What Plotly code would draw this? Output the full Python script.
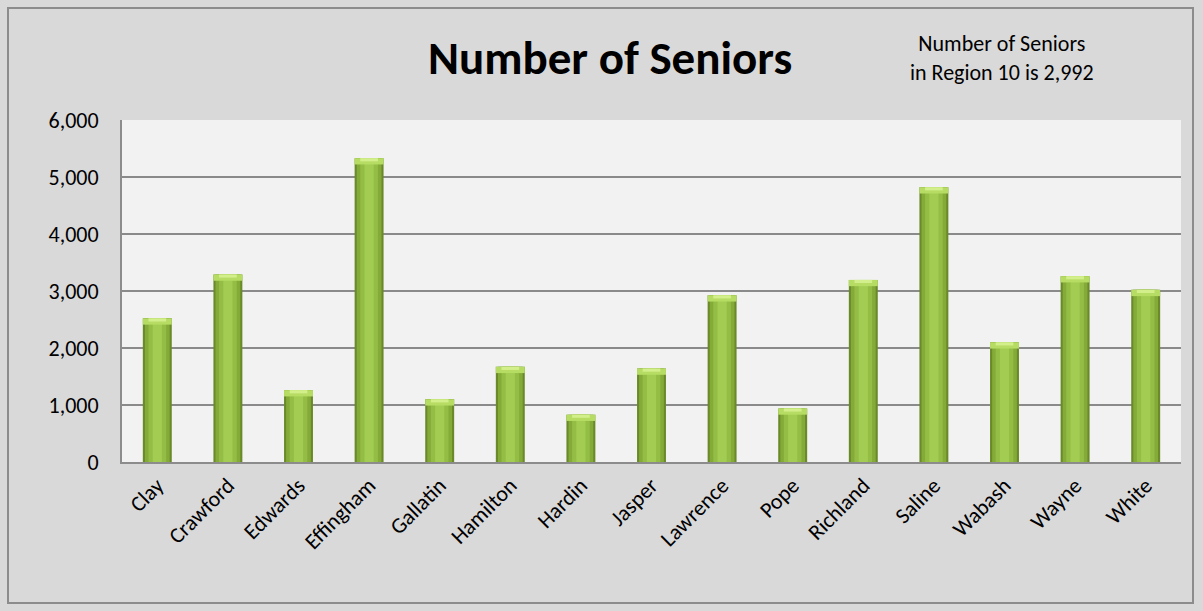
import plotly.graph_objects as go

counties = ["Clay", "Crawford", "Edwards", "Effingham", "Gallatin", "Hamilton", "Hardin",
            "Jasper", "Lawrence", "Pope", "Richland", "Saline", "Wabash", "Wayne", "White"]
seniors = [2520, 3290, 1260, 5330, 1100, 1670, 830, 1640, 2925, 940, 3195, 4820, 2100, 3260, 3020]
y_ticks = [0, 1000, 2000, 3000, 4000, 5000, 6000]
y_tick_labels = ["0", "1,000", "2,000", "3,000", "4,000", "5,000", "6,000"]
title_text = "Number of Seniors"
note_text = "Number of Seniors<br>in Region 10 is 2,992"

FONT = "Calibri, Carlito, 'Noto Sans', sans-serif"

fig = go.Figure()
# layered bars to imitate the gradient fill
layers = [(0.41, "#6a8a2a"), (0.35, "#84ab38"), (0.25, "#93bd44"), (0.13, "#a2cd52")]
for w, c in layers:
    fig.add_trace(go.Bar(x=counties, y=seniors, width=w, marker=dict(color=c, line=dict(width=0)),
                         hoverinfo="skip", showlegend=False))
# light bevel at the top of each bar
band = 110
fig.add_trace(go.Bar(x=counties, y=[band] * len(seniors), base=[v - band for v in seniors],
                     width=0.41, marker=dict(color="#b6dc64", line=dict(width=0)),
                     hoverinfo="skip", showlegend=False))
fig.add_trace(go.Bar(x=counties, y=[band / 2] * len(seniors), base=[v - band / 2 for v in seniors],
                     width=0.25, marker=dict(color="#d3ef8c", line=dict(width=0)),
                     hoverinfo="skip", showlegend=False))

fig.update_layout(
    barmode="overlay",
    width=1203, height=611,
    margin=dict(l=122, r=22, t=120, b=149),
    paper_bgcolor="#d9d9d9",
    plot_bgcolor="#f2f2f2",
    font=dict(family=FONT, size=22, color="#000000"),
    showlegend=False,
    xaxis=dict(tickangle=-45, showline=True, linecolor="#8c8c8c", linewidth=2,
               ticks="", tickfont=dict(size=22), showgrid=False),
    yaxis=dict(range=[0, 6000], tickvals=y_ticks, ticktext=y_tick_labels,
               showgrid=True, gridcolor="#8a8a8a", gridwidth=1.5,
               showline=True, linecolor="#8c8c8c", linewidth=2, ticks="",
               ticklabelstandoff=17, tickfont=dict(size=22), zeroline=False),
    annotations=[
        dict(text="<b>" + title_text + "</b>", xref="paper", yref="paper",
             x=(610 - 122) / 1059, y=(462 - 58) / 342, xanchor="center", yanchor="middle",
             showarrow=False, font=dict(size=47, family=FONT)),
        dict(text=note_text, xref="paper", yref="paper",
             x=(1002 - 122) / 1059, y=(462 - 58) / 342, xanchor="center", yanchor="middle",
             showarrow=False, font=dict(size=22, family=FONT)),
    ],
    shapes=[
        dict(type="rect", xref="paper", yref="paper",
             x0=(8 - 122) / 1059, x1=(1193 - 122) / 1059,
             y0=(462 - 603) / 342, y1=(462 - 8) / 342,
             line=dict(color="#8c8c8c", width=2), layer="below"),
    ],
)

fig.write_html("out.html")
